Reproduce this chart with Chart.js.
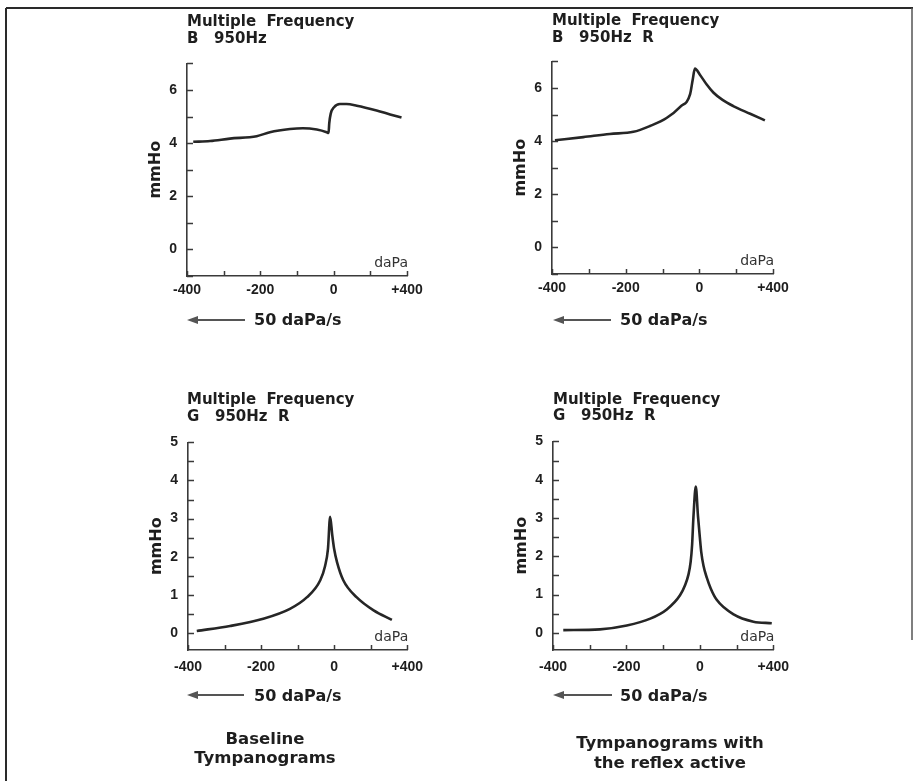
<!DOCTYPE html>
<html>
<head>
<meta charset="utf-8">
<script src="https://cdn.jsdelivr.net/npm/chart.js@4.4.1/dist/chart.umd.min.js"></script>
<style>
  body { margin: 0; background: #fff; }
  #page { position: relative; width: 916px; height: 781px; overflow: hidden; background: #fff; }
  .plot { position: absolute; }
  #overlay { position: absolute; left: 0; top: 0; pointer-events: none; }
  #overlay text { font-family: "DejaVu Sans", sans-serif; font-weight: bold; fill: #1e1e1e; white-space: pre; }
</style>
</head>
<body>
<div id="page">
  <canvas id="p1" class="plot" width="284" height="259" style="left:146px;top:45px"></canvas>
  <canvas id="p2" class="plot" width="285" height="259" style="left:511px;top:43px"></canvas>
  <canvas id="p3" class="plot" width="285" height="254" style="left:147px;top:424px"></canvas>
  <canvas id="p4" class="plot" width="286" height="255" style="left:512px;top:423px"></canvas>

  <svg id="overlay" width="916" height="781">
    <!-- frame -->
    <line x1="6" y1="8" x2="913" y2="8" stroke="#2a2a2a" stroke-width="2"/>
    <line x1="6" y1="8" x2="6" y2="781" stroke="#2a2a2a" stroke-width="2"/>
    <line x1="912" y1="8" x2="912" y2="640" stroke="#555" stroke-width="1.5"/>

    <!-- panel headings -->
    <text x="187" y="26" font-size="15">Multiple  Frequency</text>
    <text x="187" y="43" font-size="15">B   950Hz</text>
    <text x="552" y="25" font-size="15">Multiple  Frequency</text>
    <text x="552" y="42" font-size="15">B   950Hz  R</text>
    <text x="187" y="404" font-size="15">Multiple  Frequency</text>
    <text x="187" y="421" font-size="15">G   950Hz  R</text>
    <text x="553" y="404" font-size="15">Multiple  Frequency</text>
    <text x="553" y="420" font-size="15">G   950Hz  R</text>

    <!-- sweep direction -->
    <g stroke="#555" stroke-width="1.8" fill="#555">
      <line x1="195" y1="320" x2="245" y2="320"/>
      <path d="M187 320 L198 316 L198 324 Z" stroke="none"/>
      <line x1="561" y1="320" x2="611" y2="320"/>
      <path d="M553 320 L564 316 L564 324 Z" stroke="none"/>
      <line x1="195" y1="695" x2="244" y2="695"/>
      <path d="M187 695 L198 691 L198 699 Z" stroke="none"/>
      <line x1="561" y1="695" x2="612" y2="695"/>
      <path d="M553 695 L564 691 L564 699 Z" stroke="none"/>
    </g>
    <text x="254" y="325" font-size="16">50 daPa/s</text>
    <text x="620" y="325" font-size="16">50 daPa/s</text>
    <text x="254" y="701" font-size="16">50 daPa/s</text>
    <text x="620" y="701" font-size="16">50 daPa/s</text>

    <!-- captions -->
    <text x="265" y="744" font-size="16.5" text-anchor="middle">Baseline</text>
    <text x="265" y="763" font-size="16.5" text-anchor="middle">Tympanograms</text>
    <text x="670" y="748" font-size="16.5" text-anchor="middle">Tympanograms with</text>
    <text x="670" y="768" font-size="16.5" text-anchor="middle">the reflex active</text>
  </svg>
</div>

<script>
// pressure sweep (daPa) and admittance (mmHo) for each recording
const pressureB = [-383, -337, -283, -210, -174, -119, -84, -46, -19, -14, -12, -8, 1, 17, 35, 63, 117, 154, 185];
const admitB    = [4.05, 4.08, 4.17, 4.26, 4.41, 4.53, 4.56, 4.51, 4.41, 4.38, 4.75, 5.11, 5.35, 5.47, 5.47, 5.41, 5.23, 5.08, 4.96];

const pressureBR = [-392, -315, -243, -179, -134, -89, -52, -25, -18, -12, 2, 20, 38, 63, 92, 138, 178];
const admitBR    = [4.03, 4.15, 4.27, 4.35, 4.57, 4.87, 5.29, 5.77, 6.31, 6.73, 6.49, 6.13, 5.83, 5.55, 5.32, 5.03, 4.78];

const pressureG = [-376, -285, -194, -121, -75, -38, -25, -17, -11, -5, 0, 8, 25, 62, 108, 158];
const admitG    = [0.05, 0.18, 0.37, 0.63, 0.93, 1.38, 1.75, 2.2, 3.05, 2.55, 2.2, 1.85, 1.38, 0.93, 0.59, 0.34];

const pressureGR = [-372, -272, -199, -135, -90, -54, -40, -31, -25, -21, -17.5, -11, -5, 0, 4, 10, 19, 30, 46, 92, 146, 196];
const admitGR    = [0.07, 0.09, 0.19, 0.37, 0.61, 0.98, 1.25, 1.52, 1.85, 2.3, 3.0, 3.82, 3.05, 2.5, 2.1, 1.75, 1.44, 1.15, 0.86, 0.48, 0.29, 0.25];

// axes
const xTicks = [-400, -300, -200, -100, 0, 100, 200];
const xTickLabels = ['-400', '', '-200', '', '0', '', '+400'];
const yTicksB = [-1, 0, 1, 2, 3, 4, 5, 6, 7];
const yLabelsB = ['', '0', '', '2', '', '4', '', '6', ''];
const yTicksG = [0, 0.5, 1, 1.5, 2, 2.5, 3, 3.5, 4, 4.5, 5];
const yLabelsG = ['0', '', '1', '', '2', '', '3', '', '4', '', '5'];

const ink = '#262626';
const axisInk = '#3a3a3a';

// tick marks point into the plot, plus the small unit label above the x axis
const inwardTicks = {
  id: 'inwardTicks',
  afterDraw(chart) {
    const { ctx, chartArea, scales: { x, y } } = chart;
    ctx.save();
    ctx.strokeStyle = axisInk;
    ctx.lineWidth = 1.5;
    ctx.beginPath();
    y.ticks.forEach(t => {
      const py = Math.round(y.getPixelForValue(t.value)) + 0.5;
      ctx.moveTo(chartArea.left, py);
      ctx.lineTo(chartArea.left + 6, py);
    });
    x.ticks.forEach(t => {
      const px = Math.round(x.getPixelForValue(t.value)) + 0.5;
      ctx.moveTo(px, chartArea.bottom);
      ctx.lineTo(px, chartArea.bottom - 5);
    });
    ctx.stroke();
    ctx.fillStyle = '#333';
    ctx.font = '14px "DejaVu Sans"';
    ctx.textAlign = 'right';
    ctx.textBaseline = 'alphabetic';
    ctx.fillText('daPa', chartArea.right + 1, chartArea.bottom - 9);
    ctx.restore();
  }
};

function drawPanel(id, pressure, admit, yMin, yMax, yTicks, yLabels, labelGap) {
  const points = pressure.map((p, i) => ({ x: p, y: admit[i] }));
  new Chart(document.getElementById(id), {
    type: 'line',
    data: {
      datasets: [{
        data: points,
        borderColor: ink,
        borderWidth: 2.6,
        pointRadius: 0,
        cubicInterpolationMode: 'monotone',
        fill: false
      }]
    },
    options: {
      responsive: false,
      animation: false,
      layout: { padding: { top: 8, right: 23, left: 0, bottom: 0 } },
      plugins: { legend: { display: false }, tooltip: { enabled: false } },
      scales: {
        x: {
          type: 'linear',
          min: -400,
          max: 200,
          afterBuildTicks: scale => { scale.ticks = xTicks.map(v => ({ value: v })); },
          afterFit: scale => { scale.height = 28; },
          grid: { display: false, drawTicks: false },
          border: { display: true, color: axisInk, width: 1.6 },
          ticks: {
            autoSkip: false,
            maxRotation: 0,
            padding: labelGap,
            color: '#1e1e1e',
            font: { family: 'Liberation Sans', weight: 'bold', size: 14 },
            callback: (v, i) => xTickLabels[i]
          }
        },
        y: {
          min: yMin,
          max: yMax,
          afterBuildTicks: scale => { scale.ticks = yTicks.map(v => ({ value: v })); },
          afterFit: scale => { scale.width = 41; },
          grid: { display: false, drawTicks: false },
          border: { display: true, color: axisInk, width: 1.6 },
          title: {
            display: true,
            text: 'mmHo',
            color: '#1e1e1e',
            padding: 0,
            font: { family: 'DejaVu Sans', weight: 'bold', size: 16 }
          },
          ticks: {
            autoSkip: false,
            padding: 10,
            color: '#1e1e1e',
            font: { family: 'Liberation Sans', weight: 'bold', size: 14 },
            callback: (v, i) => yLabels[i]
          }
        }
      }
    },
    plugins: [inwardTicks]
  });
}

drawPanel('p1', pressureB, admitB, -1, 7, yTicksB, yLabelsB, 6);
drawPanel('p2', pressureBR, admitBR, -1, 7, yTicksB, yLabelsB, 6);
drawPanel('p3', pressureG, admitG, -0.45, 5, yTicksG, yLabelsG, 9);
drawPanel('p4', pressureGR, admitGR, -0.45, 5, yTicksG, yLabelsG, 9);
</script>
</body>
</html>
